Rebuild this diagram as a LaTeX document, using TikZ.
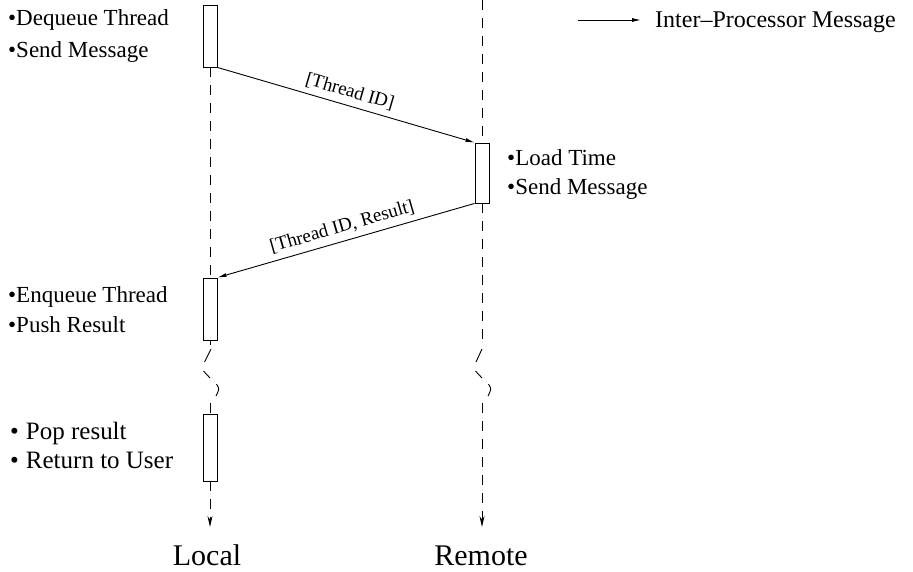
\documentclass[tikz,border=0pt]{standalone}
\usepackage{fontspec}
\setmainfont{Liberation Serif}
\usetikzlibrary{arrows.meta}
\begin{document}
\begin{tikzpicture}[x=1pt,y=-1pt,
  bar/.style={draw, line width=0.9pt, fill=white, minimum width=14pt, inner sep=0pt},
  life/.style={line width=0.9pt, dash pattern=on 10pt off 8pt},
  msg/.style={line width=0.9pt, -{Latex[length=9pt,width=4pt]}},
  endtip/.style={line width=0.9pt, dash pattern=on 10pt off 8pt, -{Stealth[length=11pt,width=5pt]}},
  brk/.style={line width=0.9pt},
  note/.style={anchor=base west, font=\fontsize{23}{23}\selectfont, inner sep=0pt},
  lbl/.style={font=\fontsize{19}{19}\selectfont, inner sep=1pt, outer sep=5pt},
  who/.style={anchor=base, font=\fontsize{30}{30}\selectfont, inner sep=0pt}]
\useasboundingbox (0,0) rectangle (913,571);

% activation bars
\node[bar, minimum height=62pt] (a1) at (210,36) {};
\node[bar, minimum height=60pt] (b1) at (482,173) {};
\node[bar, minimum height=62pt] (a2) at (210,309) {};
\node[bar, minimum height=67pt] (a3) at (210,447.5) {};

% lifeline end points and breaks
\coordinate (rtop) at (482,0);
\coordinate (lbrk1) at (210,345);
\coordinate (lbrk2) at (210,403);
\coordinate (rbrk1) at (482,345);
\coordinate (rbrk2) at (482,403);
\coordinate (lend) at (210,527);
\coordinate (rend) at (482,527);

% local lifeline
\draw[life] (a1.south) -- (a2.north);
\draw[life] (a2.south) -- (lbrk1);
\draw[life] (lbrk2) -- (a3.north);
\draw[endtip] (a3.south) -- (lend);
% remote lifeline
\draw[life] (rtop) -- (b1.north);
\draw[life] (b1.south) -- (rbrk1);
\draw[endtip] (rbrk2) -- (rend);

% break marks
\draw[brk] (211,349) -- (204.5,362);
\draw[brk] (203.5,371) -- (210,378);
\draw[brk] (216.5,384) .. controls (219.5,389) .. (216,396);
\draw[brk] (482,349) -- (476,362);
\draw[brk] (475.5,371) -- (482,378);
\draw[brk] (488.5,384) .. controls (491.5,389) .. (488,396);

% messages
\draw[msg] (a1.south east) -- (b1.north west)
  node[lbl, pos=0.5, sloped, above] {[Thread ID]};
\draw[msg] (b1.south west) -- (a2.north east)
  node[lbl, pos=0.5, sloped, above] {[Thread ID, Result]};

% notes
\node[note] (n1) at (8,25) {•Dequeue Thread};
\node[note] (n2) at (8,57) {•Send Message};
\node[note] (n3) at (507,165) {•Load Time};
\node[note] (n4) at (507,194) {•Send Message};
\node[note] (n5) at (8,302) {•Enqueue Thread};
\node[note] (n6) at (8,332) {•Push Result};
\node[note, font=\fontsize{25}{25}\selectfont] (n7) at (10,439) {•\hspace{7pt}Pop result};
\node[note, font=\fontsize{25}{25}\selectfont] (n8) at (10,468) {•\hspace{7pt}Return to User};

% legend
\coordinate (lg1) at (578,20);
\coordinate (lg2) at (641,20);
\draw[msg] (lg1) -- (lg2);
\node[note, font=\fontsize{24}{24}\selectfont] (lgt) at (655,27) {Inter–Processor Message};

% participant names
\node[who] (loc) at (207,565) {Local};
\node[who] (rem) at (481,565) {Remote};
\end{tikzpicture}
\end{document}
